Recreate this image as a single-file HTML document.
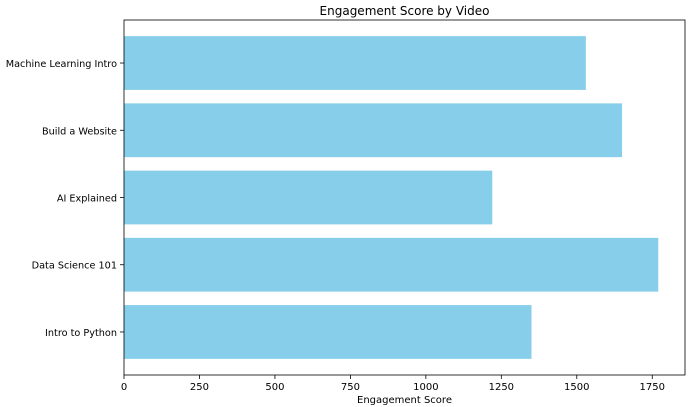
<!DOCTYPE html>
<html><head><meta charset="utf-8"><style>
body{margin:0;background:#fff;}
svg{display:block;font-family:"DejaVu Sans","Liberation Sans",sans-serif;}
</style></head><body>
<svg id="chart" width="693" height="407"></svg>
<script>
const categories=["Intro to Python","Data Science 101","AI Explained","Build a Website","Machine Learning Intro"];
const scores=[1350,1770,1220,1650,1530];
const ticks=[0,250,500,750,1000,1250,1500,1750];
const ns="http://www.w3.org/2000/svg";
const svg=document.getElementById('chart');
const L=124,R=685,T=20,B=375;
const xmax=Math.max(...scores)*1.05;
const x=v=>L+v/xmax*(R-L);
const ylo=-0.64,yhi=categories.length-1+0.64;
const y=v=>B-(v-ylo)/(yhi-ylo)*(B-T);
function mk(tag,attrs,text){const e=document.createElementNS(ns,tag);for(const k in attrs)e.setAttribute(k,attrs[k]);if(text!==undefined)e.textContent=text;svg.appendChild(e);return e;}
categories.forEach((c,i)=>{
  const h=(y(0)-y(0.8));
  const r=mk('rect',{x:x(0),y:y(i)-h/2,width:x(scores[i])-x(0),height:h,fill:'#87ceeb'});
  
  
  mk('line',{x1:L-4,x2:L,y1:y(i),y2:y(i),stroke:'#000','stroke-width':0.8});
  const t=mk('text',{x:L-7,y:y(i)+4,'text-anchor':'end','font-size':9.7},c);
  
  
});
ticks.forEach(v=>{
  mk('line',{x1:x(v),x2:x(v),y1:B,y2:B+4,stroke:'#000','stroke-width':0.8});
  const t=mk('text',{x:x(v),y:B+15,'text-anchor':'middle','font-size':10},v);
  
  
});
const f=mk('rect',{x:L,y:T,width:R-L,height:B-T,fill:'none',stroke:'#000','stroke-width':0.8});


const xt=mk('text',{x:(L+R)/2,y:403,'text-anchor':'middle','font-size':10},'Engagement Score');


const ti=mk('text',{x:(L+R)/2,y:15,'text-anchor':'middle','font-size':12},'Engagement Score by Video');


</script>
</body></html>
